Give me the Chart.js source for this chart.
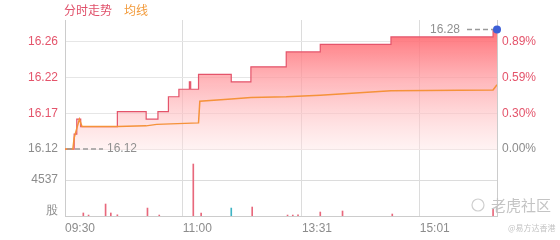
<!DOCTYPE html>
<html>
<head>
<meta charset="utf-8">
<script src="https://cdn.jsdelivr.net/npm/chart.js@4/dist/chart.umd.min.js"></script>
<style>
  html, body { margin: 0; padding: 0; background: #fff; }
  #wrap { width: 560px; height: 240px; position: relative; }
</style>
</head>
<body>
<div id="wrap"><canvas id="c"></canvas></div>
<script>
// Previous close / opening reference price
const prevClose = 16.12;

// Time axis (minutes after 09:30, lunch break removed)
const xTickMinutes = [0, 90, 181, 271];
const xTickLabels = ['09:30', '11:00', '13:31', '15:01'];

// Price axis ticks (equal percent steps off prevClose)
const pctStep = 0.2967;
const priceTickLabels = ['16.12', '16.17', '16.22', '16.26'];
const pctTickLabels = ['0.00%', '0.30%', '0.59%', '0.89%'];

// Price line (value holds until next change)
const priceMinutes = [0, 7, 9, 12, 40, 62, 71, 79, 87, 95, 96, 102, 127, 142, 169, 195, 249, 327, 330];
const priceValues = [16.12, 16.14, 16.16, 16.15, 16.17, 16.16, 16.17, 16.19, 16.20, 16.21, 16.20, 16.22, 16.21, 16.23, 16.25, 16.26, 16.27, 16.28, 16.28];

// Average price line
const avgMinutes = [0, 6, 7, 11, 13, 40, 62, 70, 102, 103, 127, 142, 169, 195, 249, 327, 330];
const avgValues = [16.12, 16.12, 16.135, 16.16, 16.15, 16.15, 16.151, 16.153, 16.155, 16.184, 16.187, 16.189, 16.190, 16.192, 16.198, 16.199, 16.206];

// Volume bars
const volMinutes = [14, 18, 31, 35, 40, 63, 72, 98, 104, 127, 143, 170, 174, 178, 195, 212, 250, 327];
const volValues = [380, 120, 1510, 380, 150, 1000, 120, 6550, 380, 1000, 1130, 120, 120, 150, 500, 630, 250, 880];
const volUp = [true, true, true, true, true, true, true, true, true, false, true, true, true, true, true, true, true, true];

const volTick = 4537;
const volTickLabels = ['股', '4537'];

const priceMin = 16.1187;
const priceMax = 16.2927;
const volMax = 8318;

const RED = '#e4546b';
const GRAY = '#8c8c8c';
const GRID = '#e6e6e6';
const FONT = { family: '"Liberation Sans", Arial, sans-serif', size: 12 };

const overlayPlugin = {
  id: 'overlay',
  afterDraw(chart) {
    const { ctx, scales: { x, y } } = chart;
    ctx.save();

    // Legend texts
    ctx.font = '12px "Noto Sans CJK SC"';
    ctx.textBaseline = 'middle';
    ctx.textAlign = 'left';
    ctx.fillStyle = '#e0506a';
    ctx.fillText('分时走势', 64, 10);
    ctx.fillStyle = '#f29a3a';
    ctx.fillText('均线', 124, 10);

    // Last price marker
    const last = priceValues.length - 1;
    const lx = x.getPixelForValue(priceMinutes[last]);
    const ly = y.getPixelForValue(priceValues[last]);
    ctx.strokeStyle = '#9a9a9a';
    ctx.lineWidth = 1.5;
    ctx.setLineDash([5, 3]);
    ctx.beginPath();
    ctx.moveTo(lx - 30, ly);
    ctx.lineTo(lx - 4, ly);
    ctx.stroke();
    ctx.font = '12px "Liberation Sans", Arial, sans-serif';
    ctx.fillStyle = '#909090';
    ctx.textAlign = 'right';
    ctx.fillText(priceValues[last].toFixed(2), lx - 37, ly);

    // Open price marker
    const oy = y.getPixelForValue(priceValues[0]);
    ctx.beginPath();
    ctx.moveTo(x.left + 2, oy);
    ctx.lineTo(x.left + 38, oy);
    ctx.stroke();
    ctx.setLineDash([]);
    ctx.textAlign = 'left';
    ctx.fillText(priceValues[0].toFixed(2), x.left + 42, oy);

    // Watermark
    ctx.strokeStyle = '#cfcfcf';
    ctx.lineWidth = 1.2;
    ctx.beginPath();
    ctx.arc(478, 205, 6, 0, Math.PI * 2);
    ctx.stroke();
    ctx.fillStyle = '#c4c4c4';
    ctx.font = '15px "Noto Sans CJK SC"';
    ctx.fillText('老虎社区', 491, 205);
    ctx.font = '8px "Noto Sans CJK SC"';
    ctx.fillText('@易方达香港', 508, 228);
    ctx.restore();
  }
};

const canvas = document.getElementById('c');

new Chart(canvas, {
  type: 'line',
  data: {
    datasets: [
      {
        label: '均线',
        data: avgMinutes.map((m, i) => ({ x: m, y: avgValues[i] })),
        borderColor: '#f5923a',
        borderWidth: 1.5,
        pointRadius: 0,
        fill: false,
        yAxisID: 'y'
      },
      {
        label: '分时走势',
        data: priceMinutes.map((m, i) => ({ x: m, y: priceValues[i] })),
        borderColor: RED,
        borderWidth: 1.2,
        stepped: 'before',
        fill: 'start',
        clip: false,
        backgroundColor: ctx => {
          const chart = ctx.chart;
          if (!chart.chartArea) return 'rgba(255,100,100,0.5)';
          const yS = chart.scales.y;
          const g = chart.ctx.createLinearGradient(0, yS.top, 0, yS.bottom);
          g.addColorStop(0, 'rgba(255,88,96,0.95)');
          g.addColorStop(0.5, 'rgba(255,160,165,0.7)');
          g.addColorStop(1, 'rgba(255,228,228,0.45)');
          return g;
        },
        pointRadius: ctx => (ctx.dataIndex === priceValues.length - 1 ? 4 : 0),
        pointBackgroundColor: '#3c5fd6',
        pointBorderWidth: 0,
        yAxisID: 'y'
      },
      {
        type: 'bar',
        label: 'volume',
        data: volMinutes.map((m, i) => ({ x: m, y: volValues[i] })),
        backgroundColor: volUp.map(up => (up ? '#e8687c' : '#3fb4c4')),
        barThickness: 1,
        yAxisID: 'yVol'
      }
    ]
  },
  options: {
    responsive: true,
    maintainAspectRatio: false,
    animation: false,
    layout: { padding: { top: 20, left: 0, right: 0, bottom: 0 } },
    plugins: {
      legend: { display: false },
      tooltip: { enabled: false }
    },
    scales: {
      x: {
        type: 'linear',
        min: 0,
        max: 330,
        offset: false,
        afterBuildTicks: scale => {
          scale.ticks = xTickMinutes.map(v => ({ value: v }));
        },
        afterFit: scale => {
          scale.height = 24;
        },
        ticks: {
          align: 'start',
          padding: 5,
          maxRotation: 0,
          autoSkip: false,
          color: GRAY,
          font: FONT,
          callback: (v, i) => xTickLabels[i]
        },
        grid: { color: '#dcdcdc', drawTicks: false, offset: false },
        border: { color: '#cccccc' }
      },
      y: {
        position: 'left',
        stack: 'main',
        stackWeight: 130,
        weight: 1,
        min: priceMin,
        max: priceMax,
        afterBuildTicks: scale => {
          scale.ticks = priceTickLabels.map((_, k) => ({ value: prevClose * (1 + (k * pctStep) / 100) }));
        },
        afterFit: scale => {
          scale.width = 65;
        },
        ticks: {
          padding: 7,
          font: FONT,
          color: ctx => (ctx.index === 0 ? GRAY : RED),
          callback: (v, i) => priceTickLabels[i]
        },
        grid: { color: GRID, drawTicks: false },
        border: { color: '#cccccc' }
      },
      yVol: {
        position: 'left',
        stack: 'main',
        stackWeight: 66,
        weight: 0,
        min: 0,
        max: volMax,
        afterBuildTicks: scale => {
          scale.ticks = [{ value: 700 }, { value: volTick }];
        },
        afterFit: scale => {
          scale.width = 65;
        },
        ticks: {
          padding: 7,
          font: FONT,
          color: GRAY,
          callback: (v, i) => volTickLabels[i]
        },
        grid: {
          drawTicks: false,
          color: ctx => (ctx.tick && ctx.tick.value === volTick ? '#dcdcdc' : 'rgba(0,0,0,0)')
        },
        border: { color: '#cccccc' }
      },
      yPct: {
        position: 'right',
        stack: 'main',
        stackWeight: 130,
        weight: 0,
        min: (priceMin / prevClose - 1) * 100,
        max: (priceMax / prevClose - 1) * 100,
        afterBuildTicks: scale => {
          scale.ticks = pctTickLabels.map((_, k) => ({ value: k * pctStep }));
        },
        afterFit: scale => {
          scale.width = 63;
        },
        ticks: {
          padding: 5,
          font: FONT,
          color: ctx => (ctx.index === 0 ? GRAY : RED),
          callback: (v, i) => pctTickLabels[i]
        },
        grid: { display: false, drawTicks: false },
        border: { color: '#cccccc' }
      },
      yVolR: {
        position: 'right',
        stack: 'main',
        stackWeight: 66,
        weight: 1,
        min: 0,
        max: volMax,
        afterFit: scale => {
          scale.width = 63;
        },
        ticks: { display: false },
        grid: { display: false, drawTicks: false },
        border: { color: '#cccccc' }
      }
    }
  },
  plugins: [overlayPlugin]
});
</script>
</body>
</html>
